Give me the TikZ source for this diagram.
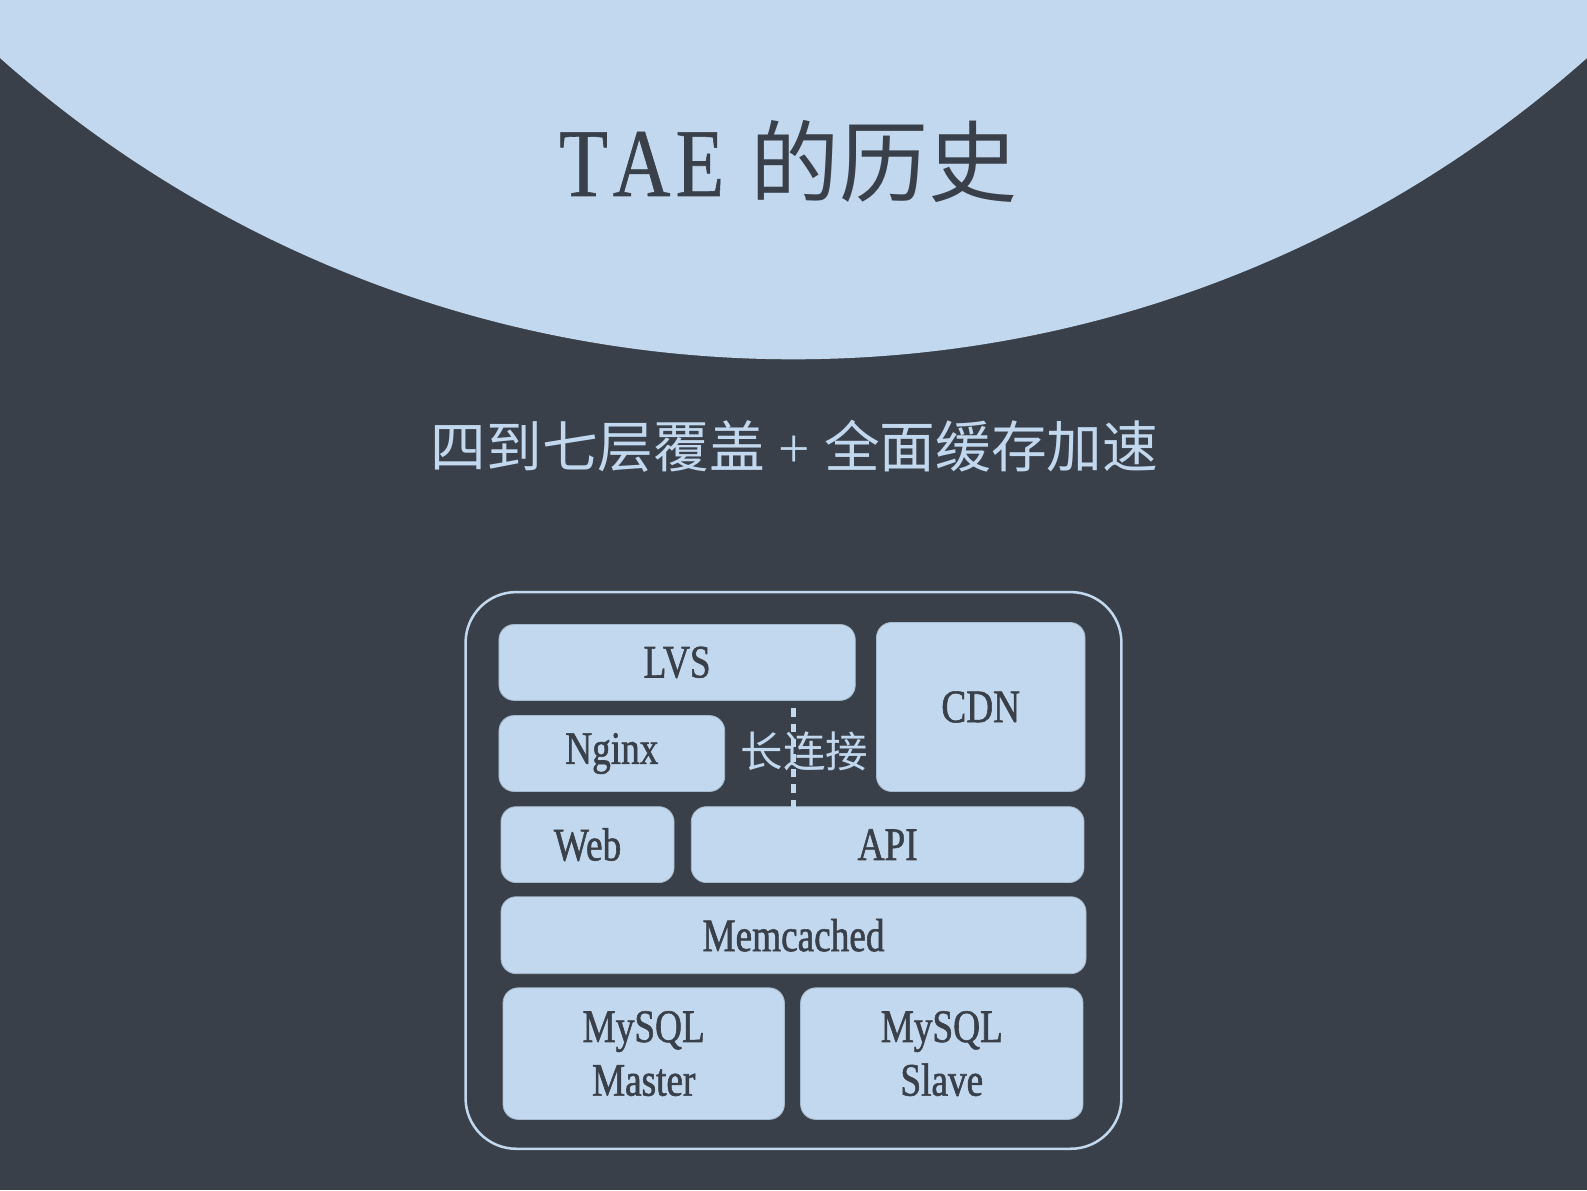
\documentclass[tikz,border=0pt]{standalone}
\usepackage{fontspec}
\setmainfont{Liberation Serif}
\newfontfamily\condfont{Liberation Serif}[FakeStretch=0.8, FakeBold=1.2]
\newfontfamily\titlefont{Liberation Serif}[FakeStretch=0.82, FakeBold=0.6]
\newfontfamily\cjk{Noto Sans CJK SC}
\definecolor{bgdark}{RGB}{58,64,73}
\definecolor{lblue}{RGB}{194,216,238}
\tikzset{
  box/.style={fill=lblue, draw=lblue!80!bgdark, line width=0.8pt, rounded corners=15pt,
    inner sep=0pt, text=bgdark, align=center,
    font=\condfont\fontsize{46}{53}\selectfont},
  longlink/.style={draw=lblue, line width=4.5pt, dash pattern=on 8pt off 7pt},
}
\begin{document}
\begin{tikzpicture}[x=1pt,y=-1pt]
\useasboundingbox (0,0) rectangle (1568,1176);
\clip (0,0) rectangle (1568,1176);
\fill[bgdark] (0,0) rectangle (1568,1176);
\fill[lblue] (784,-826.2) circle[radius=1181.2pt];

\node[text=bgdark, inner sep=0pt] (title) at (779,160)
  {\titlefont\fontsize{96}{100}\selectfont T\kern5pt A\kern5pt E\hspace{26pt}{\cjk\fontsize{88}{100}\selectfont 的历史}};

\node[text=lblue, inner sep=0pt] (subtitle) at (785,441)
  {\cjk\fontsize{55}{60}\selectfont 四到七层覆盖{\rmfamily\ + }全面缓存加速};

\draw[lblue, line width=2.5pt, rounded corners=50pt, fill=bgdark] (460,585) rectangle (1108,1135);

\node[box, minimum width=352pt, minimum height=75pt] (lvs) at (669,654.5) {LVS};
\node[box, minimum width=206pt, minimum height=167pt] (cdn) at (969,698.5) {CDN};
\node[box, minimum width=223pt, minimum height=75pt] (nginx) at (604.5,744.5) {Nginx};
\node[box, minimum width=171pt, minimum height=75pt] (web) at (580.5,834.5) {Web};
\node[box, minimum width=388pt, minimum height=75pt] (api) at (877,834.5) {API};
\node[box, minimum width=578pt, minimum height=76pt] (memc) at (784,924) {Memcached};
\node[box, minimum width=278pt, minimum height=130pt] (master) at (636,1041) {MySQL\\Master};
\node[box, minimum width=279pt, minimum height=130pt] (slave) at (930.5,1041) {MySQL\\Slave};

\coordinate (dtop) at (784,700);
\coordinate (dbot) at (784,797);
\draw[longlink] (dtop) -- (dbot);
\node[text=lblue, inner sep=0pt] (longlabel) at (795,742) {\cjk\fontsize{42}{46}\selectfont 长连接};
\end{tikzpicture}
\end{document}
